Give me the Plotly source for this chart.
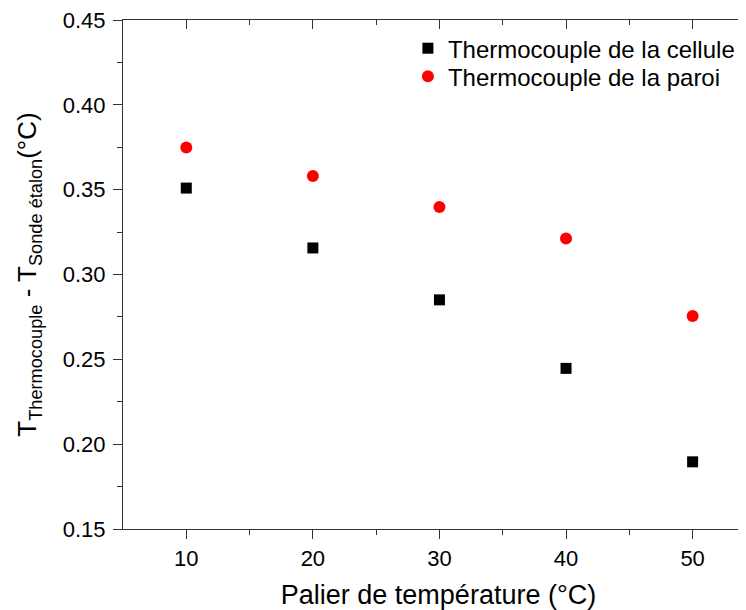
import plotly.graph_objects as go

paliers = [10, 20, 30, 40, 50]
cellule = [0.351, 0.3157, 0.2851, 0.2447, 0.1896]
paroi = [0.3749, 0.3581, 0.3399, 0.3213, 0.2756]
name_cellule = "Thermocouple de la cellule"
name_paroi = "Thermocouple de la paroi"
yticks = [0.15, 0.20, 0.25, 0.30, 0.35, 0.40, 0.45]

FONT = "Arial"
xr = [5, 54.85]
yr = [0.15, 0.4501]

fig = go.Figure()
fig.add_trace(go.Scatter(x=paliers, y=cellule, mode="markers", name=name_cellule,
                         legend="legend",
                         marker=dict(symbol="square", size=11, color="black")))
fig.add_trace(go.Scatter(x=paliers, y=paroi, mode="markers", name=name_paroi,
                         legend="legend2",
                         marker=dict(symbol="circle", size=12, color="#ff0000")))
# invisible trace to carry mirrored axes with inward ticks
fig.add_trace(go.Scatter(x=paliers, y=paroi, mode="markers", xaxis="x2", yaxis="y2",
                         marker=dict(opacity=0), showlegend=False, hoverinfo="skip"))

axcol = "#333333"
legfont = dict(size=24, family=FONT, color="black")
fig.update_layout(
    width=746, height=610,
    margin=dict(l=115, r=0, t=12, b=89),
    paper_bgcolor="white", plot_bgcolor="white",
    font=dict(family=FONT, color="black"),
    showlegend=True,
    legend=dict(x=0.4515, y=0.988, xanchor="left", yanchor="top",
                font=legfont, bgcolor="rgba(0,0,0,0)", itemwidth=30),
    legend2=dict(x=0.4515, y=0.933, xanchor="left", yanchor="top",
                 font=legfont, bgcolor="rgba(0,0,0,0)", itemwidth=30),
    xaxis=dict(range=xr, tickvals=[10, 20, 30, 40, 50], showgrid=False, zeroline=False,
               automargin=False, ticklabeloverflow="allow",
               showline=True, linecolor=axcol, linewidth=1.2,
               ticks="outside", ticklen=9, tickcolor=axcol,
               minor=dict(tickvals=[15, 25, 35, 45], ticks="outside", ticklen=5, tickcolor=axcol),
               tickfont=dict(size=22),
               title=dict(text="Palier de température (°C)", font=dict(size=27), standoff=15)),
    yaxis=dict(range=yr, tickvals=yticks,
               tickformat=".2f", showgrid=False, zeroline=False, automargin=False,
               ticklabeloverflow="allow",
               showline=True, linecolor=axcol, linewidth=1.2,
               ticks="outside", ticklen=9, tickcolor=axcol, ticklabelstandoff=3,
               minor=dict(tickvals=[0.175, 0.225, 0.275, 0.325, 0.375, 0.425], ticks="outside",
                          ticklen=5, tickcolor=axcol),
               tickfont=dict(size=22),
               title=dict(text="T<sub>Thermocouple</sub> - T<sub>Sonde étalon</sub>(°C)",
                          font=dict(size=26), standoff=18)),
    xaxis2=dict(range=xr, overlaying="x", side="top", tickvals=[10, 20, 30, 40, 50],
                showticklabels=False, showgrid=False, zeroline=False, automargin=False,
                showline=True, linecolor=axcol, linewidth=1.2,
                ticks="inside", ticklen=9, tickcolor=axcol,
                minor=dict(tickvals=[15, 25, 35, 45], ticks="inside", ticklen=5, tickcolor=axcol)),
    yaxis2=dict(range=yr, overlaying="y", side="right", showticklabels=False, automargin=False,
                showgrid=False, zeroline=False, showline=False, ticks=""),
)

fig.write_html("out.html")
